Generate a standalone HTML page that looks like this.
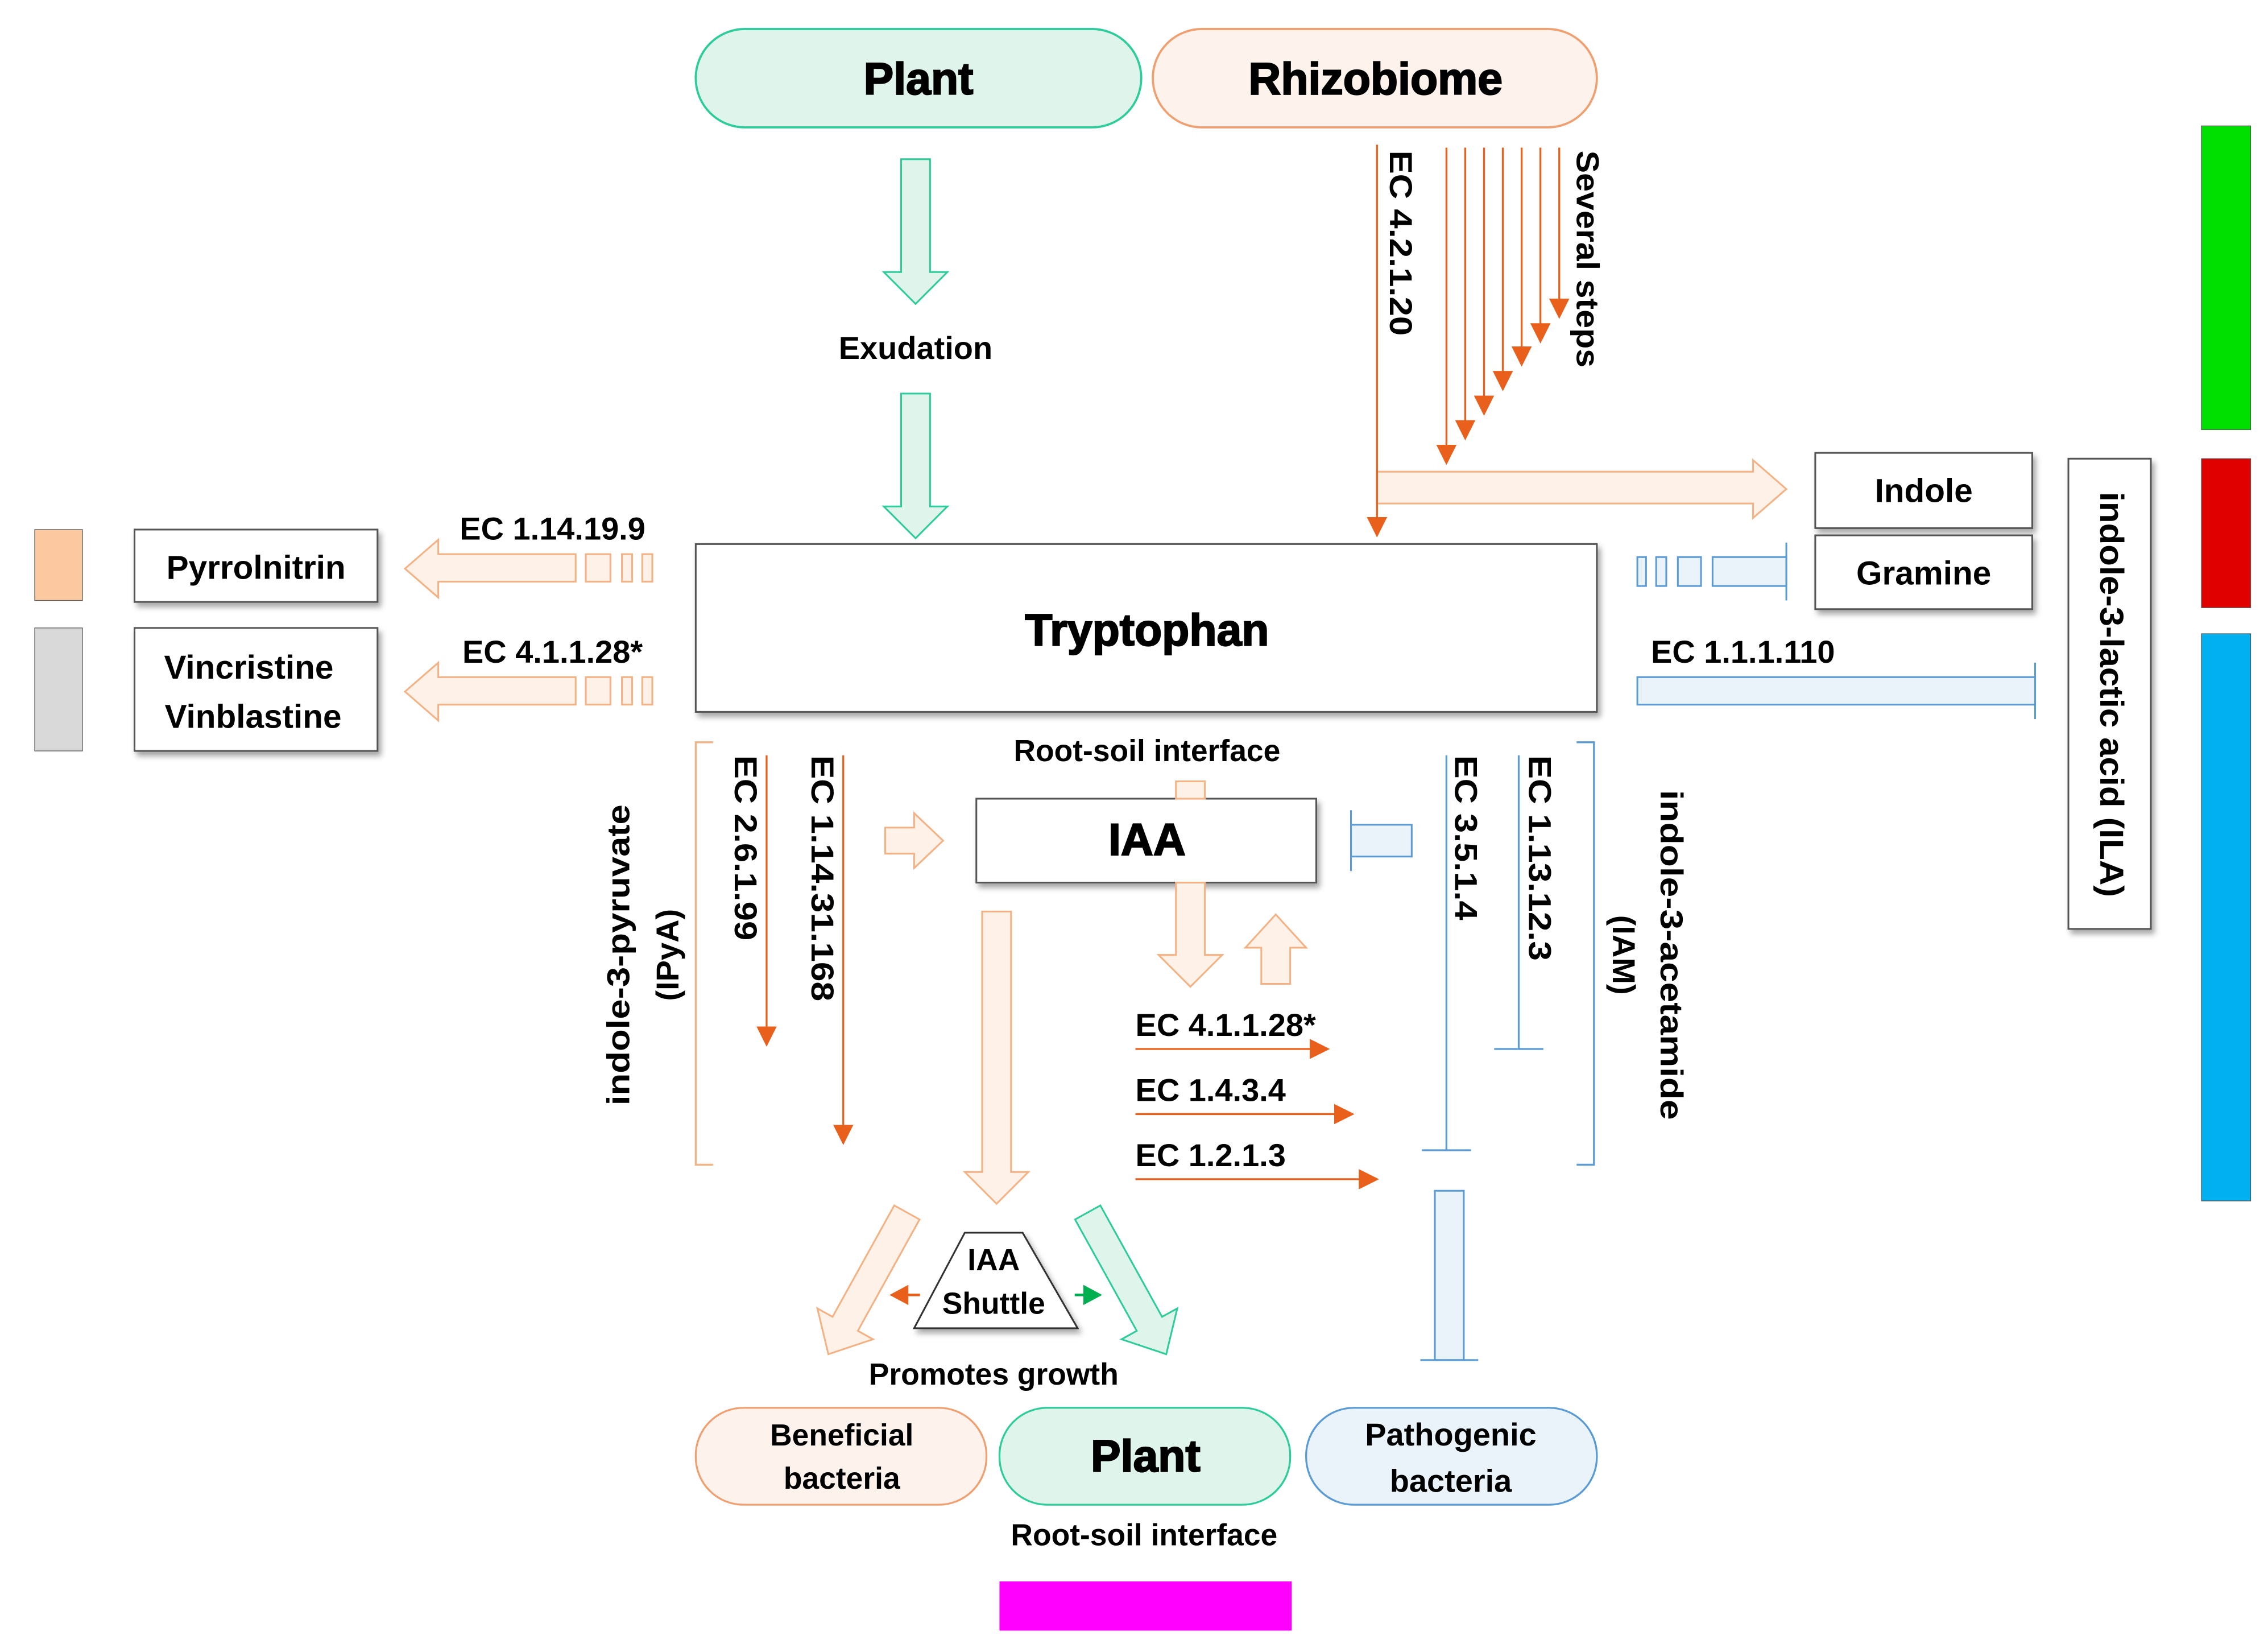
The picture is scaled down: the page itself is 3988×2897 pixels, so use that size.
<!DOCTYPE html>
<html><head><meta charset="utf-8"><style>
html,body{margin:0;padding:0;background:#fff;}
svg{display:block;}
text{font-family:"Liberation Sans",Arial,sans-serif;font-weight:bold;fill:#000;}
.h{stroke:#000;stroke-width:0.9;}
</style></head><body>
<svg width="3988" height="2897" viewBox="0 0 1568 1139" xmlns="http://www.w3.org/2000/svg">
<defs>
<marker id="ahb" viewBox="0 0 10 10" refX="9" refY="5" markerWidth="14" markerHeight="14" markerUnits="userSpaceOnUse" orient="auto">
<path d="M0,0 L10,5 L0,10 z" fill="#e8601c"/></marker>
<filter id="sh" x="-10%" y="-10%" width="130%" height="130%"><feDropShadow dx="2" dy="3" stdDeviation="2" flood-color="#000" flood-opacity="0.35"/></filter>
</defs>
<rect width="1568" height="1139" fill="#fff"/>

<rect x="481" y="20" width="308" height="68" rx="34" fill="#dff5ec" stroke="#2ecc9a" stroke-width="1.5"/>
<text class="h" x="635" y="65" font-size="31" text-anchor="middle">Plant</text>
<rect x="797" y="20" width="307" height="68" rx="34" fill="#fdf3ec" stroke="#f0a070" stroke-width="1.5"/>
<text class="h" x="951" y="65" font-size="31" text-anchor="middle">Rhizobiome</text>

<polygon points="623,110 643,110 643,188 655,188 633,210 611,188 623,188" fill="#dff5ec" stroke="#2ecc9a" stroke-width="1.2"/>
<text x="633" y="248" font-size="22" text-anchor="middle">Exudation</text>
<polygon points="623,272 643,272 643,350 655,350 633,372 611,350 623,350" fill="#dff5ec" stroke="#2ecc9a" stroke-width="1.2"/>

<polygon points="952,326 1212,326 1212,318 1235,338 1212,358 1212,348 952,348" fill="#fdf1e8" stroke="#f4b183" stroke-width="1.2"/>
<g stroke="#e8601c" stroke-width="1.3" fill="none">
<line x1="952" y1="100" x2="952" y2="370" marker-end="url(#ahb)"/>
<line x1="1000" y1="102" x2="1000" y2="320" marker-end="url(#ahb)"/>
<line x1="1013" y1="102" x2="1013" y2="303" marker-end="url(#ahb)"/>
<line x1="1026" y1="102" x2="1026" y2="286" marker-end="url(#ahb)"/>
<line x1="1039" y1="102" x2="1039" y2="269" marker-end="url(#ahb)"/>
<line x1="1052" y1="102" x2="1052" y2="252" marker-end="url(#ahb)"/>
<line x1="1065" y1="102" x2="1065" y2="236" marker-end="url(#ahb)"/>
<line x1="1078" y1="102" x2="1078" y2="219" marker-end="url(#ahb)"/>
</g>
<text transform="translate(961,104) rotate(90)" font-size="22" textLength="128" lengthAdjust="spacingAndGlyphs">EC 4.2.1.20</text>
<text transform="translate(1090,104) rotate(90)" font-size="22" textLength="150" lengthAdjust="spacingAndGlyphs">Several steps</text>

<g filter="url(#sh)">
<rect x="1255" y="313" width="150" height="52" fill="#fff" stroke="#555" stroke-width="1.2"/>
<rect x="1255" y="370" width="150" height="51" fill="#fff" stroke="#555" stroke-width="1.2"/>
<rect x="1430" y="317" width="57" height="325" fill="#fff" stroke="#555" stroke-width="1.2"/>
<rect x="93" y="366" width="168" height="50" fill="#fff" stroke="#555" stroke-width="1.2"/>
<rect x="93" y="434" width="168" height="85" fill="#fff" stroke="#555" stroke-width="1.2"/>
<rect x="481" y="376" width="623" height="116" fill="#fff" stroke="#555" stroke-width="1.2"/>
<rect x="675" y="552" width="235" height="58" fill="#fff" stroke="#555" stroke-width="1.2"/>
</g>
<text x="1330" y="347" font-size="23" text-anchor="middle">Indole</text>
<text x="1330" y="404" font-size="23" text-anchor="middle">Gramine</text>
<text transform="translate(1452,480) rotate(90)" font-size="23" text-anchor="middle" textLength="280" lengthAdjust="spacingAndGlyphs">indole-3-lactic acid (ILA)</text>
<text x="177" y="400" font-size="23" text-anchor="middle">Pyrrolnitrin</text>
<text x="172" y="469" font-size="23" text-anchor="middle">Vincristine</text>
<text x="175" y="503" font-size="23" text-anchor="middle">Vinblastine</text>
<text class="h" x="793" y="446" font-size="31" text-anchor="middle">Tryptophan</text>
<text class="h" x="793" y="591" font-size="31" text-anchor="middle">IAA</text>

<rect x="1522" y="87" width="34" height="210" fill="#00e000" stroke="#555" stroke-width="0.5"/>
<rect x="1522" y="317" width="34" height="103" fill="#e00000" stroke="#555" stroke-width="0.5"/>
<rect x="1522" y="438" width="34" height="392" fill="#00b0f0" stroke="#555" stroke-width="0.5"/>
<rect x="24" y="366" width="33" height="49" fill="#fbc8a0" stroke="#555" stroke-width="0.5"/>
<rect x="24" y="434" width="33" height="85" fill="#d9d9d9" stroke="#555" stroke-width="0.5"/>
<rect x="691" y="1093" width="202" height="34" fill="#ff00ff"/>

<g fill="#fdf1e8" stroke="#f4b183" stroke-width="1.2">
<polygon points="398,383 303,383 303,373 280,393 303,413 303,402 398,402"/>
<rect x="405" y="383" width="17" height="19"/><rect x="430" y="383" width="7" height="19"/><rect x="444" y="383" width="7" height="19"/>
<polygon points="398,468 303,468 303,458 280,478 303,498 303,487 398,487"/>
<rect x="405" y="468" width="17" height="19"/><rect x="430" y="468" width="7" height="19"/><rect x="444" y="468" width="7" height="19"/>
</g>
<text x="382" y="373" font-size="22" text-anchor="middle">EC 1.14.19.9</text>
<text x="382" y="458" font-size="22" text-anchor="middle">EC 4.1.1.28*</text>

<g fill="#eaf3fa" stroke="#5b9bd5" stroke-width="1.2">
<rect x="1132" y="385" width="6" height="20"/><rect x="1145" y="385" width="7" height="20"/><rect x="1160" y="385" width="16" height="20"/>
<rect x="1184" y="385" width="51" height="20"/>
<line x1="1235" y1="375" x2="1235" y2="415"/>
<rect x="1132" y="468" width="275" height="19"/>
<line x1="1407" y1="458" x2="1407" y2="497"/>
<rect x="934" y="570" width="42" height="22"/>
<line x1="934" y1="560" x2="934" y2="602"/>
<rect x="992" y="823" width="20" height="117"/>
<line x1="982" y1="940" x2="1022" y2="940"/>
</g>
<text x="1205" y="458" font-size="22" text-anchor="middle">EC 1.1.1.110</text>

<path d="M493,513 L481,513 L481,805 L493,805" fill="none" stroke="#f4b183" stroke-width="1.3"/>
<path d="M1090,513 L1102,513 L1102,805 L1090,805" fill="none" stroke="#5b9bd5" stroke-width="1.3"/>
<text transform="translate(435,660) rotate(-90)" font-size="22" text-anchor="middle" textLength="208" lengthAdjust="spacingAndGlyphs">indole-3-pyruvate</text>
<text transform="translate(469,660) rotate(-90)" font-size="22" text-anchor="middle">(IPyA)</text>
<text transform="translate(1148,660) rotate(90)" font-size="22" text-anchor="middle" textLength="228" lengthAdjust="spacingAndGlyphs">indole-3-acetamide</text>
<text transform="translate(1115,660) rotate(90)" font-size="22" text-anchor="middle">(IAM)</text>

<g stroke="#e8601c" stroke-width="1.3">
<line x1="530" y1="522" x2="530" y2="722" marker-end="url(#ahb)"/>
<line x1="583" y1="522" x2="583" y2="790" marker-end="url(#ahb)"/>
<line x1="785" y1="725" x2="918" y2="725" marker-end="url(#ahb)"/>
<line x1="785" y1="770" x2="935" y2="770" marker-end="url(#ahb)"/>
<line x1="785" y1="815" x2="952" y2="815" marker-end="url(#ahb)"/>
</g>
<text transform="translate(508,522) rotate(90)" font-size="22" textLength="128" lengthAdjust="spacingAndGlyphs">EC 2.6.1.99</text>
<text transform="translate(561,522) rotate(90)" font-size="22" textLength="170" lengthAdjust="spacingAndGlyphs">EC 1.14.31.168</text>
<text x="785" y="716" font-size="22">EC 4.1.1.28*</text>
<text x="785" y="761" font-size="22">EC 1.4.3.4</text>
<text x="785" y="806" font-size="22">EC 1.2.1.3</text>

<g stroke="#5b9bd5" stroke-width="1.3">
<line x1="1000" y1="522" x2="1000" y2="795"/><line x1="983" y1="795" x2="1017" y2="795"/>
<line x1="1050" y1="522" x2="1050" y2="725"/><line x1="1033" y1="725" x2="1067" y2="725"/>
</g>
<text transform="translate(1006,522) rotate(90)" font-size="22" textLength="114" lengthAdjust="spacingAndGlyphs">EC 3.5.1.4</text>
<text transform="translate(1057,522) rotate(90)" font-size="22" textLength="142" lengthAdjust="spacingAndGlyphs">EC 1.13.12.3</text>

<text x="793" y="526" font-size="21" text-anchor="middle">Root-soil interface</text>

<g fill="#fdf1e8" stroke="#f4b183" stroke-width="1.2">
<polygon points="612,572 632,572 632,562 652,581 632,600 632,590 612,590"/>
<polygon points="813,552 813,540 833,540 833,552"/>
<polygon points="813,610 833,610 833,660 845,660 823,682 801,660 813,660"/>
<polygon points="872,680 892,680 892,655 903,655 882,632 861,655 872,655"/>
<polygon points="679,630 699,630 699,810 711,810 689,832 667,810 679,810"/>
<polygon transform="translate(627,838) rotate(29)" points="-10,0 10,0 10,88 22,88 0,112 -22,88 -10,88"/>
</g>
<polygon transform="translate(752,838) rotate(-29)" points="-10,0 10,0 10,88 22,88 0,112 -22,88 -10,88" fill="#dff5ec" stroke="#2ecc9a" stroke-width="1.2"/>

<polygon points="667,852 707,852 745,918 632,918" fill="#fff" stroke="#333" stroke-width="1.2" filter="url(#sh)"/>
<text x="687" y="878" font-size="21" text-anchor="middle">IAA</text>
<text x="687" y="908" font-size="21" text-anchor="middle">Shuttle</text>
<line x1="636" y1="895" x2="622" y2="895" stroke="#e8601c" stroke-width="1.8"/>
<path d="M615,895 L628,888 L628,902 z" fill="#e8601c"/>
<line x1="743" y1="895" x2="755" y2="895" stroke="#00b050" stroke-width="1.8"/>
<path d="M762,895 L749,888 L749,902 z" fill="#00b050"/>
<text x="687" y="957" font-size="21" text-anchor="middle">Promotes growth</text>

<rect x="481" y="973" width="201" height="67" rx="33" fill="#fdf3ec" stroke="#f0a070" stroke-width="1.3"/>
<text x="582" y="999" font-size="21" text-anchor="middle">Beneficial</text>
<text x="582" y="1029" font-size="21" text-anchor="middle">bacteria</text>
<rect x="691" y="973" width="201" height="67" rx="33" fill="#dff5ec" stroke="#2ecc9a" stroke-width="1.3"/>
<text class="h" x="792" y="1017" font-size="31" text-anchor="middle">Plant</text>
<rect x="903" y="973" width="201" height="67" rx="33" fill="#eaf3fa" stroke="#5b9bd5" stroke-width="1.3"/>
<text x="1003" y="999" font-size="22" text-anchor="middle">Pathogenic</text>
<text x="1003" y="1031" font-size="22" text-anchor="middle">bacteria</text>
<text x="791" y="1068" font-size="21" text-anchor="middle">Root-soil interface</text>
</svg>
</body></html>
